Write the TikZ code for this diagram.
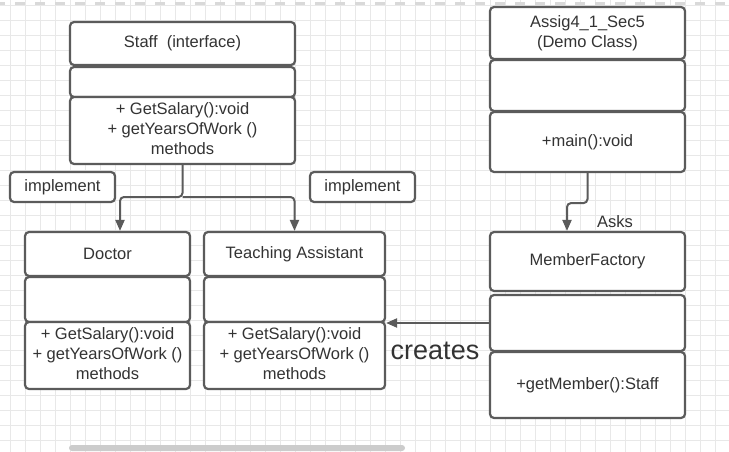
\documentclass[tikz,border=0pt]{standalone}
\usepackage{fontspec}
\setmainfont{Liberation Sans}
\usepackage{tikz}
\usetikzlibrary{arrows.meta}

\definecolor{boxline}{HTML}{5B5B5B}
\definecolor{boxtext}{HTML}{333333}
\definecolor{gridc}{HTML}{E8E8E8}

\begin{document}
\begin{tikzpicture}[x=1pt,y=-1pt,
 row/.style={draw=boxline,line width=2.2pt,rounded corners=4pt,fill=white,text=boxtext,align=center,inner sep=0pt,font=\fontsize{16.5}{20}\selectfont},
 tag/.style={row,minimum width=105,minimum height=30},
 link/.style={draw=boxline,line width=2pt,rounded corners=4pt,-{Triangle[length=11pt,width=9pt]}},
 note/.style={text=boxtext,inner sep=0pt,font=\fontsize{16.5}{20}\selectfont}]
 \useasboundingbox (0,0) rectangle (729,452);
 \fill[white] (0,0) rectangle (729,452);

 % background grid of the canvas
 \begin{scope}[shift={(10,5.7)}]
  \draw[gridc,line width=0.7pt,step=15pt] (-10,-5.7) grid (719,446.3);
 \end{scope}
 \draw[gray!30,line width=3pt,dash pattern=on 10pt off 10pt] (-5,4) -- (729,4);
 \fill[gray!40,rounded corners=3pt] (69,445) rectangle (405,451);

 % Staff interface
 \node[row,minimum width=225,minimum height=43] (staffname) at (182.5,43.5) {Staff\ \ (interface)};
 \node[row,minimum width=225,minimum height=30] (staffattr) at (182.5,82) {};
 \node[row,minimum width=225,minimum height=67] (staffops) at (182.5,130.5) {+ GetSalary():void\\+ getYearsOfWork ()\\methods\rule[-4pt]{0pt}{0pt}};

 \node[tag] (impleft) at (62.5,187) {implement};
 \node[tag] (impright) at (362.5,187) {implement};

 % Doctor
 \node[row,minimum width=165,minimum height=44] (docname) at (107.5,254) {Doctor};
 \node[row,minimum width=165,minimum height=45] (docattr) at (107.5,299.5) {};
 \node[row,minimum width=165,minimum height=67] (docops) at (107.5,355.5) {+ GetSalary():void\\+ getYearsOfWork ()\\methods\rule[-4pt]{0pt}{0pt}};

 % Teaching Assistant
 \node[row,minimum width=181,minimum height=44] (taname) at (294.5,254) {Teaching Assistant};
 \node[row,minimum width=181,minimum height=45] (taattr) at (294.5,299.5) {};
 \node[row,minimum width=181,minimum height=67] (taops) at (294.5,355.5) {+ GetSalary():void\\+ getYearsOfWork ()\\methods\rule[-4pt]{0pt}{0pt}};

 % demo class
 \node[row,minimum width=195,minimum height=52] (assigname) at (587.5,33) {Assig4\_1\_Sec5\\(Demo Class)};
 \node[row,minimum width=195,minimum height=51] (assigattr) at (587.5,85.5) {};
 \node[row,minimum width=195,minimum height=60] (assigops) at (587.5,142) {+main():void};

 % factory
 \node[row,minimum width=195,minimum height=59] (mfname) at (587.5,261.5) {MemberFactory};
 \node[row,minimum width=195,minimum height=56] (mfattr) at (587.5,323) {};
 \node[row,minimum width=195,minimum height=66] (mfops) at (587.5,385) {+getMember():Staff};

 % connectors
 \coordinate (split) at (182.5,197);
 \draw[link] (staffops.south) -- (split) -| ([xshift=12.5pt]docname.north);
 \draw[link] (split) -| (taname.north);

 \draw[link] (assigops.south) -- ++(0,30) -| ([xshift=-20.5pt]mfname.north);
 \node[note] (asks) at (615,222) {Asks};

 \draw[link] (mfattr.west) -- (mfattr.west -| taops.east);
 \node[note,anchor=base,font=\fontsize{27}{32}\selectfont] (creates) at (435,359) {creates};
\end{tikzpicture}
\end{document}
